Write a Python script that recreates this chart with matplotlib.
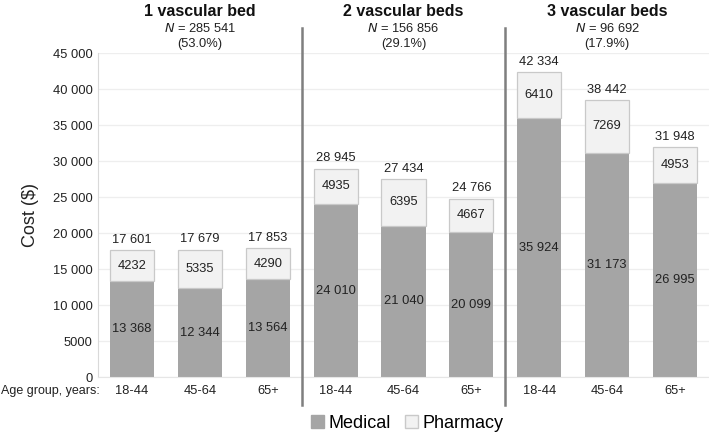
import matplotlib.pyplot as plt
import numpy as np
from matplotlib.patches import Patch

plt.rcParams['font.family'] = ['Liberation Sans', 'DejaVu Sans']

# Данные
groups = ['1 vascular bed', '2 vascular beds', '3 vascular beds']
group_n = ['285 541', '156 856', '96 692']
group_pct = ['(53.0%)', '(29.1%)', '(17.9%)']
ages = ['18-44', '45-64', '65+']
medical = [13368, 12344, 13564, 24010, 21040, 20099, 35924, 31173, 26995]
pharmacy = [4232, 5335, 4290, 4935, 6395, 4667, 6410, 7269, 4953]
totals = [17601, 17679, 17853, 28945, 27434, 24766, 42334, 38442, 31948]
yticks = [0, 5000, 10000, 15000, 20000, 25000, 30000, 35000, 40000, 45000]


def fmt(v):
    # пробел как разделитель тысяч, но 4-значные числа без пробела
    if v < 10000:
        return str(v)
    return '{:,}'.format(v).replace(',', ' ')


fs = 9.3
tc = '#222222'

fig = plt.figure(figsize=(7.09, 4.36), dpi=100)
ax = fig.add_axes([98 / 709, 1 - 377 / 436, 1 - 98 / 709, (377 - 53) / 436])

x = np.arange(len(medical))
w = 0.65
med_c = '#a5a5a5'
ph_c = '#f2f2f2'

ax.bar(x, medical, w, color=med_c, zorder=2)
ax.bar(x, pharmacy, w, bottom=medical, color=ph_c, edgecolor='#c9c9c9',
       linewidth=0.9, zorder=2)

for i in range(len(x)):
    ax.text(x[i], medical[i] / 2, fmt(medical[i]), ha='center', va='center',
            fontsize=fs, color=tc)
    ax.text(x[i], medical[i] + pharmacy[i] / 2, fmt(pharmacy[i]), ha='center',
            va='center', fontsize=fs, color=tc)
    ax.text(x[i], totals[i] + 1450, fmt(totals[i]), ha='center', va='center',
            fontsize=fs, color=tc)

ax.set_xlim(-0.5, 8.5)
ax.set_ylim(0, 45000)
ax.set_yticks(yticks)
ax.set_yticklabels([fmt(t) for t in yticks], fontsize=fs, color=tc)
ax.set_xticks([])
ax.yaxis.grid(True, color='#eeeeee', linewidth=0.9, zorder=0)
ax.tick_params(axis='y', length=0, pad=4)
for s in ['top', 'right']:
    ax.spines[s].set_visible(False)
ax.spines['left'].set_color('#d9d9d9')
ax.spines['bottom'].set_color('#e6e6e6')
ax.set_ylabel('Cost ($)', fontsize=13, labelpad=10, color=tc)

# подписи возрастных групп
for i in range(len(x)):
    ax.text(x[i], -1900, ages[i % 3], ha='center', va='center',
            fontsize=fs, color=tc)
fig.text(0.002, 1 - 391 / 436, 'Age group, years:', ha='left', va='center',
         fontsize=9, color=tc)

# разделители групп
for d in [2.5, 5.5]:
    xf = ax.transData.transform((d, 0))[0] / fig.bbox.width
    fig.add_artist(plt.Line2D([xf, xf], [1 - 405 / 436, 1 - 28 / 436],
                              color='#7f7f7f', linewidth=1.8))

# заголовки групп
for g in range(3):
    xf = ax.transData.transform((g * 3 + 1, 0))[0] / fig.bbox.width
    fig.text(xf, 1 - 11 / 436, groups[g], ha='center', va='center',
             fontsize=11.5, fontweight='bold', color='#111111')
    fig.text(xf, 1 - 28 / 436, '$\\it{N}$ = ' + group_n[g], ha='center',
             va='center', fontsize=fs, color=tc)
    fig.text(xf, 1 - 44 / 436, group_pct[g], ha='center', va='center',
             fontsize=fs, color=tc)

# легенда
handles = [Patch(facecolor=med_c, edgecolor=med_c, label='Medical'),
           Patch(facecolor=ph_c, edgecolor='#c9c9c9', label='Pharmacy')]
fig.legend(handles=handles, loc='center', bbox_to_anchor=(407 / 709, 1 - 423 / 436),
           ncol=2, frameon=False, fontsize=13, handlelength=0.7,
           handleheight=0.7, handletextpad=0.25, columnspacing=0.8)

fig.savefig('out.png', dpi=100)
